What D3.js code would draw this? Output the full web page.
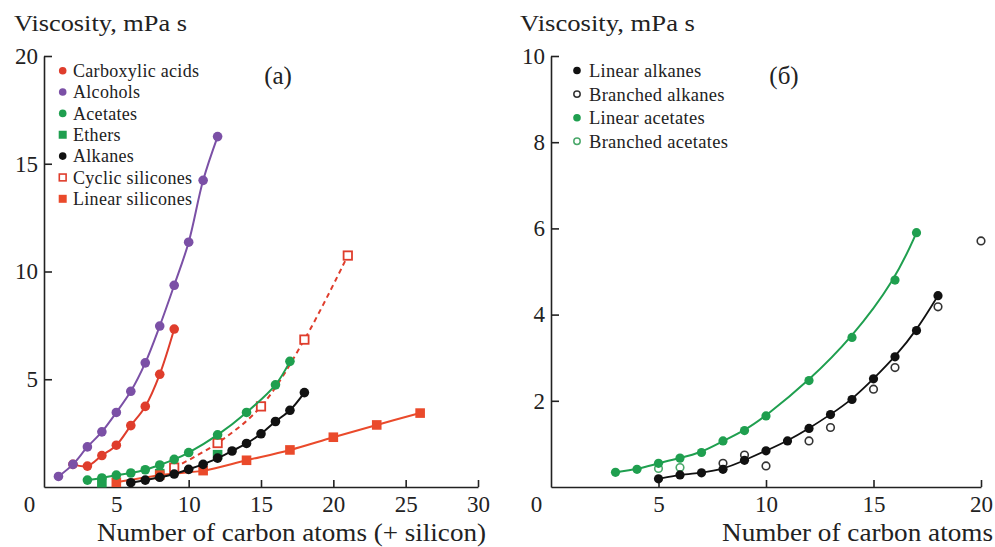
<!DOCTYPE html>
<html>
<head>
<meta charset="utf-8">
<script src="https://cdn.jsdelivr.net/npm/d3@7"></script>
<style>
  html, body { margin: 0; padding: 0; background: #fff; }
  svg { display: block; font-family: Liberation Serif, serif; }
</style>
</head>
<body>
<svg id="chart" width="995" height="547"></svg>
<script>
// ---------- Panel (a) data ----------
const carboxylicX = [2, 3, 4, 5, 6, 7, 8, 9];
const carboxylicY = [1.05, 0.97, 1.46, 1.94, 2.85, 3.74, 5.23, 7.33];
const alcoholsX = [1, 2, 3, 4, 5, 6, 7, 8, 9, 10, 11, 12];
const alcoholsY = [0.49, 1.05, 1.86, 2.56, 3.46, 4.44, 5.76, 7.47, 9.36, 11.36, 14.23, 16.26];
const acetatesX = [3, 4, 5, 6, 7, 8, 9, 10, 12, 14, 16, 17];
const acetatesY = [0.32, 0.42, 0.55, 0.65, 0.80, 1.02, 1.28, 1.60, 2.42, 3.46, 4.74, 5.83];
const ethersX = [4, 8, 12];
const ethersY = [0.20, 0.62, 1.50];
const alkanesX = [6, 7, 8, 9, 10, 11, 12, 13, 14, 15, 16, 17, 18];
const alkanesY = [0.20, 0.32, 0.45, 0.60, 0.82, 1.05, 1.34, 1.67, 2.02, 2.47, 3.04, 3.56, 4.38];
const cyclicSilX = [9, 12, 15, 18, 21];
const cyclicSilY = [0.90, 2.04, 3.74, 6.84, 10.74];
const linearSilX = [5, 8, 11, 14, 17, 20, 23, 26];
const linearSilY = [0.22, 0.55, 0.76, 1.24, 1.72, 2.31, 2.88, 3.43];

const leftXTicks = [5, 10, 15, 20, 25, 30];
const leftYTicks = [5, 10, 15, 20];

// ---------- Panel (б) data ----------
const linAlkX = [5, 6, 7, 8, 9, 10, 11, 12, 13, 14, 15, 16, 17, 18];
const linAlkY = [0.19, 0.28, 0.33, 0.41, 0.62, 0.84, 1.07, 1.36, 1.68, 2.03, 2.51, 3.02, 3.63, 4.44];
const brAlkX = [8, 9, 10, 12, 13, 15, 16, 18, 20];
const brAlkY = [0.55, 0.74, 0.49, 1.07, 1.38, 2.27, 2.77, 4.18, 5.71];
const linAcX = [3, 4, 5, 6, 7, 8, 9, 10, 12, 14, 16, 17];
const linAcY = [0.34, 0.41, 0.55, 0.67, 0.80, 1.07, 1.31, 1.65, 2.47, 3.47, 4.80, 5.90];
const brAcX = [5, 6];
const brAcY = [0.43, 0.45];

const rightXTicks = [5, 10, 15, 20];
const rightYTicks = [2, 4, 6, 8, 10];

// ---------- Colours ----------
const C_RED = "#df3d2c";
const C_PURPLE = "#7b50a6";
const C_GREEN = "#1f9f4f";
const C_BLACK = "#111111";
const C_ORANGE = "#ea4a2b";
const C_TEXT = "#222";

const svg = d3.select("#chart");
const FONT = "Liberation Serif, serif";

function zip(xs, ys) { return xs.map((x, i) => ({ x, y: ys[i] })); }

function txt(g, x, y, s, size, opts = {}) {
  const t = g.append("text").attr("x", x).attr("y", y)
    .style("font-family", FONT).attr("font-size", size).attr("fill", C_TEXT)
    .attr("text-anchor", opts.anchor || "start").text(s);
  if (opts.dy) t.attr("dy", opts.dy);
  if (opts.len) t.attr("textLength", opts.len).attr("lengthAdjust", "spacingAndGlyphs");
  if (opts.ls) t.style("letter-spacing", opts.ls + "px");
  return t;
}

function drawAxes(g, x, y, xTicks, yTicks, originX, axisY) {
  const ax = g.append("g").attr("transform", `translate(0,${axisY})`)
    .call(d3.axisBottom(x).tickValues(xTicks).tickSizeInner(-7).tickSizeOuter(0).tickPadding(9));
  const ay = g.append("g").attr("transform", `translate(${originX},0)`)
    .call(d3.axisLeft(y).tickValues(yTicks).tickSizeInner(-8).tickSizeOuter(0).tickPadding(6));
  [ax, ay].forEach(a => {
    a.selectAll("path,line").attr("stroke", "#222").attr("stroke-width", 1.6);
    a.selectAll("text").style("font-family", FONT).attr("font-size", 23).attr("fill", C_TEXT);
  });
  txt(g, originX - 14.5, axisY + 25, "0", 23, { anchor: "middle" });
}

// ================= Panel (a) =================
const xa = d3.scaleLinear().domain([0, 30]).range([44, 478]);
const ya = d3.scaleLinear().domain([0, 20]).range([487, 56]);
const ga = svg.append("g");
drawAxes(ga, xa, ya, leftXTicks, leftYTicks, 44, 487);

txt(ga, 14, 31, "Viscosity, mPa s", 24, { len: 173 });
txt(ga, 97, 541, "Number of carbon atoms (+ silicon)", 25, { len: 389 });
txt(ga, 278, 84, "(a)", 25, { anchor: "middle" });

const lineA = d3.line().x(d => xa(d.x)).y(d => ya(d.y)).curve(d3.curveCatmullRom.alpha(0.5));

function seriesA(xs, ys, color, shape, opts = {}) {
  const data = zip(xs, ys);
  if (!opts.noLine) {
    ga.append("path").datum(data).attr("d", lineA).attr("fill", "none")
      .attr("stroke", color).attr("stroke-width", 2)
      .attr("stroke-dasharray", opts.dash || null);
  }
  const m = ga.append("g");
  if (shape === "circle") {
    m.selectAll("circle").data(data).join("circle")
      .attr("cx", d => xa(d.x)).attr("cy", d => ya(d.y)).attr("r", 4.8).attr("fill", color);
  } else if (shape === "square") {
    m.selectAll("rect").data(data).join("rect")
      .attr("x", d => xa(d.x) - 4.8).attr("y", d => ya(d.y) - 4.8).attr("width", 9.6).attr("height", 9.6)
      .attr("fill", color);
  } else if (shape === "opensquare") {
    m.selectAll("rect").data(data).join("rect")
      .attr("x", d => xa(d.x) - 4.2).attr("y", d => ya(d.y) - 4.2).attr("width", 8.4).attr("height", 8.4)
      .attr("fill", "#fff").attr("stroke", color).attr("stroke-width", 1.8);
  }
}

seriesA(ethersX, ethersY, C_GREEN, "square", { noLine: true });
seriesA(linearSilX, linearSilY, C_ORANGE, "square");
seriesA(cyclicSilX, cyclicSilY, C_RED, "opensquare", { dash: "5,4" });
seriesA(alkanesX, alkanesY, C_BLACK, "circle");
seriesA(acetatesX, acetatesY, C_GREEN, "circle");
seriesA(carboxylicX, carboxylicY, C_RED, "circle");
seriesA(alcoholsX, alcoholsY, C_PURPLE, "circle");

// legend (a)
const legA = [
  { name: "Carboxylic acids", color: C_RED, shape: "circle" },
  { name: "Alcohols", color: C_PURPLE, shape: "circle" },
  { name: "Acetates", color: C_GREEN, shape: "circle" },
  { name: "Ethers", color: C_GREEN, shape: "square" },
  { name: "Alkanes", color: C_BLACK, shape: "circle" },
  { name: "Cyclic silicones", color: C_RED, shape: "opensquare" },
  { name: "Linear silicones", color: C_ORANGE, shape: "square" }
];
legA.forEach((d, i) => {
  const cy = 70.7 + i * 21.35, cx = 62.7;
  if (d.shape === "circle") ga.append("circle").attr("cx", cx).attr("cy", cy).attr("r", 3.8).attr("fill", d.color);
  else if (d.shape === "square") ga.append("rect").attr("x", cx - 4).attr("y", cy - 4).attr("width", 8).attr("height", 8).attr("fill", d.color);
  else ga.append("rect").attr("x", cx - 3.4).attr("y", cy - 3.4).attr("width", 6.8).attr("height", 6.8)
    .attr("fill", "#fff").attr("stroke", d.color).attr("stroke-width", 1.6);
  txt(ga, 73, cy, d.name, 18, { dy: "0.35em", ls: 0.3 });
});

// ================= Panel (б) =================
const xb = d3.scaleLinear().domain([0, 20]).range([551, 981]);
const yb = d3.scaleLinear().domain([0, 10]).range([487, 56]);
const gb = svg.append("g");
drawAxes(gb, xb, yb, rightXTicks, rightYTicks, 551, 487);

txt(gb, 520, 31, "Viscosity, mPa s", 24, { len: 175 });
txt(gb, 722, 541, "Number of carbon atoms", 25, { len: 271 });
txt(gb, 784, 84, "(б)", 25, { anchor: "middle" });

const lineB = d3.line().x(d => xb(d.x)).y(d => yb(d.y)).curve(d3.curveBasis);

gb.append("path").datum(zip(linAcX, linAcY)).attr("d", lineB).attr("fill", "none")
  .attr("stroke", C_GREEN).attr("stroke-width", 2);
gb.append("path").datum(zip(linAlkX, linAlkY)).attr("d", lineB).attr("fill", "none")
  .attr("stroke", C_BLACK).attr("stroke-width", 1.8);

function dotsB(xs, ys, color, open) {
  gb.append("g").selectAll("circle").data(zip(xs, ys)).join("circle")
    .attr("cx", d => xb(d.x)).attr("cy", d => yb(d.y))
    .attr("r", open ? 3.8 : 4.6)
    .attr("fill", open ? "none" : color)
    .attr("stroke", open ? color : "none")
    .attr("stroke-width", open ? 1.6 : 0);
}
dotsB(brAcX, brAcY, "#4aa86a", true);
dotsB(brAlkX, brAlkY, "#333", true);
dotsB(linAcX, linAcY, C_GREEN, false);
dotsB(linAlkX, linAlkY, C_BLACK, false);

const legB = [
  { name: "Linear alkanes", color: C_BLACK, open: false },
  { name: "Branched alkanes", color: "#333", open: true },
  { name: "Linear acetates", color: C_GREEN, open: false },
  { name: "Branched acetates", color: "#4aa86a", open: true }
];
legB.forEach((d, i) => {
  const cy = 70.5 + i * 23.6, cx = 577;
  gb.append("circle").attr("cx", cx).attr("cy", cy).attr("r", d.open ? 3.2 : 3.8)
    .attr("fill", d.open ? "none" : d.color).attr("stroke", d.open ? d.color : "none").attr("stroke-width", 1.5);
  txt(gb, 589, cy, d.name, 18.5, { dy: "0.35em", ls: 0.3 });
});
</script>
</body>
</html>
